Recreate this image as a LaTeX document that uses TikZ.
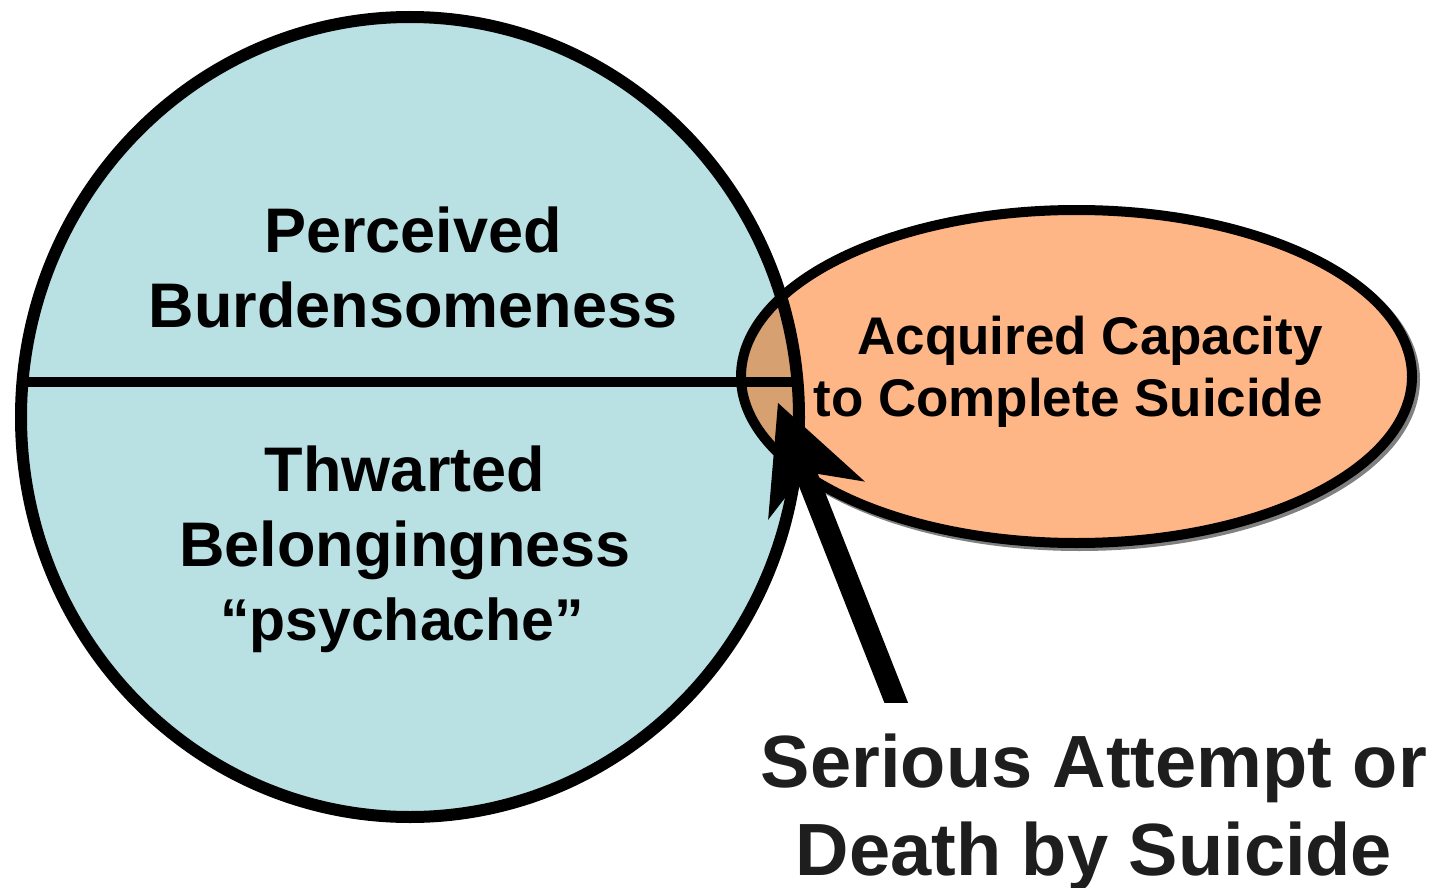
\documentclass[tikz,border=0pt]{standalone}
\usepackage{fontspec}
\setmainfont{Liberation Sans}
\usetikzlibrary{arrows.meta}
\definecolor{circblue}{RGB}{185,224,227}
\definecolor{ellorange}{RGB}{255,182,135}
\definecolor{overlapbrown}{RGB}{214,160,112}
\definecolor{shadowgray}{RGB}{128,128,128}
\definecolor{labelgray}{RGB}{30,30,30}
\begin{document}
\begin{tikzpicture}[x=1pt,y=-1pt,
  bigtext/.style={font=\bfseries\fontsize{63}{75}\selectfont, inner sep=0pt, align=center},
  smalltext/.style={font=\bfseries\fontsize{53}{62}\selectfont, inner sep=0pt, align=right},
  outtext/.style={font=\bfseries\fontsize{74}{88}\selectfont, inner sep=0pt, align=center, text=labelgray},
  circ/.style={x radius=389pt, y radius=400pt},
  ell/.style={x radius=335.5pt, y radius=166.5pt},
  bigarrow/.style={line width=22pt, -{Stealth[length=105pt,width=104pt,inset=31pt,line width=0pt]}}]
\useasboundingbox (0,0) rectangle (1441,888);
\coordinate (cc) at (410,417);
\coordinate (ec) at (1076.5,376.5);
\coordinate (hl) at (22,382);
\coordinate (hr) at (798,382);
\coordinate (astart) at (903,720);
\coordinate (atip) at (778,403);
% circle fill
\fill[circblue] (cc) ellipse [circ];
% ellipse shadow and fill
\draw[shadowgray, line width=10pt] ([shift={(3,3)}]ec) ellipse [ell];
\fill[ellorange] (ec) ellipse [ell];
\begin{scope}
  \clip (cc) ellipse [circ];
  \fill[overlapbrown] (ec) ellipse [ell];
\end{scope}
% divider and borders
\draw[line width=10pt] (hl) -- (hr);
\draw[line width=12pt] (cc) ellipse [circ];
\draw[line width=10pt] (ec) ellipse [ell];
% arrow
\begin{scope}
  \clip (0,0) rectangle (1441,702);
  \draw[bigarrow] (astart) -- (atip);
\end{scope}
% texts
\node[bigtext] (pb) at (413,267) {Perceived\\Burdensomeness};
\node[bigtext] (tb) at (405,513) {Thwarted\\Belongingness};
\node[inner sep=0pt, font=\bfseries\fontsize{59}{70}\selectfont, anchor=base] (ps) at (402,640) {“psychache”};
\node[smalltext, anchor=east] (ac) at (1323,372) {Acquired Capacity\\to Complete Suicide};
\node[outtext] (sa) at (1094,812) {Serious Attempt or\\Death by Suicide};
\end{tikzpicture}
\end{document}
